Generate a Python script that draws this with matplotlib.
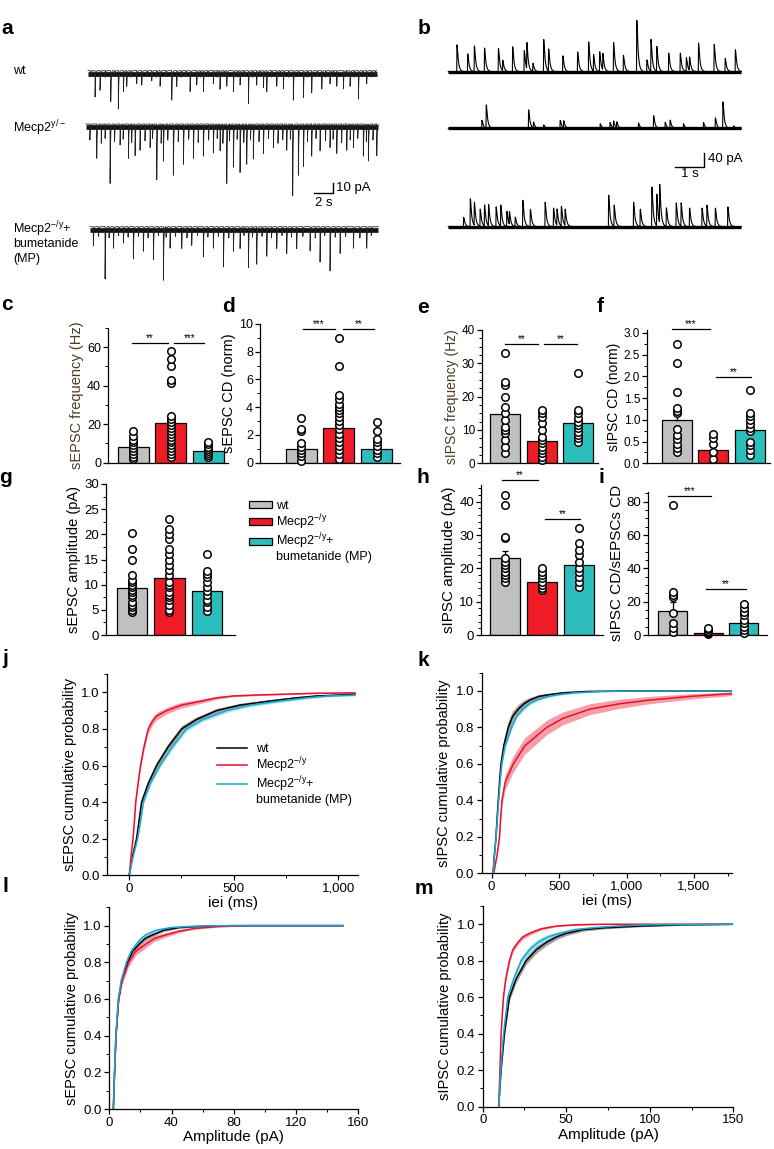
import numpy as np
import matplotlib
matplotlib.use('Agg')
import matplotlib.pyplot as plt
from matplotlib.patches import Patch
from matplotlib.lines import Line2D
from matplotlib.ticker import MultipleLocator, FuncFormatter, FormatStrFormatter

plt.rcParams['font.family'] = ['Liberation Sans', 'DejaVu Sans']
plt.rcParams['mathtext.default'] = 'regular'
plt.rcParams['axes.linewidth'] = 0.9

# ---------------- data ----------------
groups = ['wt', 'Mecp2$^{-/y}$', 'Mecp2$^{-/y}$+', 'bumetanide (MP)']
bar_colors = ['#c0c0c0', '#ee1c25', '#2ebdbd']

# panel a: sEPSC events (time s, amplitude pA)
a_wt_events = np.array([(0.3,7),(0.74,32.7),(1.26,24.3),(1.8,8),(2.39,37.7),(2.8,7),(3.19,46.7),(3.72,26),(4.07,19.3),(4.5,8),(5.12,16),(5.65,17.7),(6.2,7),(6.7,12.7),(7.2,8),(7.58,19.3),(8.2,7),(8.81,36),(9.33,19.3),(9.8,8),(10.3,7),(10.74,26),(11.44,17.7),(11.8,8),(12.14,26),(12.6,7),(13.19,16),(13.6,8),(13.89,22.7),(14.3,7),(14.6,19.3),(15.3,26),(15.7,8),(16.0,17.7),(16.4,7),(16.88,41),(17.3,8),(17.75,17.7),(18.1,7),(18.46,21),(18.81,26),(19.3,8),(19.86,19.3),(20.2,7),(20.56,22.7),(21.1,8),(21.61,36),(22.1,7),(22.67,32.7),(23.1,8),(23.54,27.7),(24.1,7),(24.6,22.7),(25.0,8),(25.47,16),(25.8,7),(26.18,19.3),(26.88,22.7),(27.2,7),(27.58,19.3),(28.0,8),(28.46,35.3),(28.9,7),(29.33,16),(29.8,8),(30.2,7)])
a_ko_events = np.array([(1.12,42.7),(2.53,72.7),(3.58,26),(4.46,42.7),(5.16,39.3),(5.68,32.7),(6.74,29.3),(7.44,69.3),(8.14,46),(9.19,62.7),(10.25,49.3),(11.30,42.7),(12.35,39.3),(13.40,36),(14.11,32.7),(14.81,72.7),(15.51,52.7),(16.21,59.3),(16.91,49.3),(17.61,42.7),(18.67,36),(19.72,29.3),(21.12,32.7),(21.75,87.7),(22.35,62.7),(22.88,52.7),(23.75,39.3),(24.63,32.7),(25.68,29.3),(26.39,36),(27.44,32.7),(28.14,29.3),(29.19,39.3),(29.72,46),(30.6,39.3),
    (0.4,20),(1.6,24),(2.0,18),(3.0,22),(3.9,19),(4.8,23),(6.2,21),(7.0,18),(7.9,24),(8.6,20),(9.7,22),(10.8,19),(11.8,23),(12.9,20),(13.8,18),(14.4,24),(15.1,21),(15.9,19),(16.6,23),(17.3,20),(18.2,22),(19.2,18),(20.2,24),(20.7,20),(21.5,19),(23.3,22),(24.2,18),(25.2,21),(26.0,19),(26.9,23),(27.8,20),(28.6,18),(29.5,22),(30.2,20)])
a_bm_events = np.array([(0.35,23.3),(1.58,65),(2.46,26.7),(3.51,20),(4.56,40),(5.61,30),(6.67,40),(7.72,66.7),(8.42,26.7),(9.65,26.7),(10.70,23.3),(11.93,36.7),(12.98,26.7),(14.04,50),(15.09,30),(15.79,26.7),(16.67,50),(17.54,46.7),(18.60,36.7),(19.65,26.7),(20.70,33.3),(21.75,26.7),(23.16,30),(24.21,43.3),(25.26,55),(26.32,33.3),(27.72,26.7),(29.12,26.7),
    (0.9,12),(2.0,14),(3.0,11),(4.0,13),(5.1,12),(6.1,14),(7.2,11),(8.0,13),(9.0,12),(10.2,14),(11.3,11),(12.4,13),(13.5,12),(14.6,14),(16.2,11),(17.1,13),(18.1,12),(19.1,14),(20.2,11),(21.2,13),(22.4,12),(23.7,14),(24.7,11),(25.8,13),(26.9,12),(28.4,14),(29.6,11)])

# panel b: sIPSC events (time s, amplitude pA)
b_wt_events = np.array([(0.29,110),(0.66,73),(0.89,105),(1.24,97),(1.72,95),(1.87,43),(2.21,102),(2.61,86),(2.70,107),(2.91,33),(3.28,132),(3.45,90),(3.94,65),(4.45,81),(4.83,122),(5.00,67),(5.21,81),(5.32,67),(5.69,119),(6.03,67),(6.49,210),(6.84,48),(6.98,130),(7.18,102),(7.59,76),(7.99,76),(8.20,57),(8.31,55),(8.62,117),(9.16,112),(9.54,54),(9.89,90)])
b_ko_events = np.array([(1.15,33),(1.30,95),(2.76,76),(2.93,24),(3.28,14),(3.85,33),(3.97,29),(5.23,19),(5.57,24),(5.69,29),(5.80,24),(6.55,22),(7.07,52),(7.47,24),(7.64,33),(8.10,19),(8.79,24),(9.20,43),(9.46,108),(9.83,10)])
b_bm_events = np.array([(0.52,38),(0.75,114),(0.89,95),(1.09,71),(1.24,86),(1.38,86),(1.64,81),(1.80,86),(2.01,62),(2.10,52),(2.30,38),(2.56,108),(2.82,71),(3.33,100),(3.62,76),(3.74,67),(3.89,81),(4.02,67),(5.52,129),(5.71,86),(6.38,100),(6.61,71),(7.01,162),(7.18,129),(7.28,157),(7.51,76),(7.85,97),(8.02,95),(8.31,76),(8.74,76),(8.91,86),(9.20,76),(9.63,81)])

# bar panels: means, sem, individual cells
c_means = [8.0, 20.5, 6.2];  c_sem = [1.3, 4.2, 0.7]
c_wt = [2, 3, 4.5, 6, 7.5, 9, 10.5, 12, 14, 16.5]
c_ko = [3, 4.5, 6, 7.5, 9, 10.5, 12, 13.5, 15, 16.5, 18, 19.5, 21, 22.5, 24.5, 41.5, 43, 50, 54, 58]
c_bm = [3, 4, 5, 6, 7, 8, 9.5, 11]

d_means = [1.0, 2.5, 1.0];  d_sem = [0.2, 0.45, 0.2]
d_wt = [0.15, 0.45, 0.7, 0.95, 1.15, 1.4, 2.3, 2.4, 3.2]
d_ko = [0.3, 0.6, 0.9, 1.2, 1.5, 1.8, 2.1, 2.4, 2.7, 3.0, 3.3, 3.6, 3.8, 4.0, 4.2, 4.6, 4.9, 7.0, 9.0]
d_bm = [0.4, 0.7, 0.95, 1.2, 1.5, 1.7, 2.3, 2.9]

e_means = [14.7, 6.7, 12.0];  e_sem = [2.2, 1.2, 1.4]
e_wt = [3, 5, 7, 9, 10, 11, 13, 15, 17, 20, 23.5, 24.5, 33]
e_ko = [1, 2, 3, 4, 5, 6, 7, 8, 10, 12, 14, 15, 16]
e_bm = [6.5, 7.5, 8.5, 9.5, 10.5, 11.5, 12.5, 13.5, 15, 16, 27]

f_means = [1.0, 0.3, 0.77];  f_sem = [0.17, 0.08, 0.12]
f_wt = [0.27, 0.35, 0.45, 0.55, 0.65, 0.8, 1.15, 1.2, 1.27, 1.65, 2.3, 2.75]
f_ko = [0.1, 0.25, 0.45, 0.58, 0.67]
f_bm = [0.2, 0.3, 0.42, 0.5, 0.75, 0.82, 0.9, 1.0, 1.08, 1.15, 1.68]

g_means = [9.4, 11.3, 8.8];  g_sem = [0.7, 0.9, 0.6]
g_wt = [4.5, 5, 5.5, 6, 6.5, 7.5, 8, 8.5, 9, 9.5, 10, 10.5, 11, 12, 15, 17, 20.3]
g_ko = [4.5, 5, 6, 7, 7.5, 8, 8.5, 9.5, 10, 10.5, 12, 13, 14, 15, 16, 17, 19, 20, 21, 23]
g_bm = [4.8, 5.5, 6.5, 7, 8, 8.8, 9.5, 10.5, 11.5, 12.2, 12.8, 16]

h_means = [23.0, 16.0, 21.0];  h_sem = [2.3, 0.6, 1.3]
h_wt = [16, 17, 18, 19, 20, 21, 22, 23, 29, 29.5, 39, 42]
h_ko = [13.5, 14, 15, 16, 17, 18, 19, 20]
h_bm = [14.5, 16, 17.5, 19, 20, 22, 24, 25.5, 27.5, 32]

i_means = [14.5, 1.5, 7.0];  i_sem = [5.3, 0.5, 1.6]
i_wt = [2, 4, 7, 13.5, 23, 24, 26, 78]
i_ko = [0.5, 1, 1.5, 2, 2.5, 3.5, 4.5]
i_bm = [1, 3, 5, 7, 9, 12, 14, 16.5, 18.5]

# significance brackets (x from, x to, y, label)
c_sig = [(-0.03, 0.93, 62.4, '**'), (1.1, 1.9, 62.4, '***')]
d_sig = [(0.05, 0.9, 9.62, '***'), (1.1, 1.94, 9.62, '**')]
e_sig = [(0.0, 0.91, 35.8, '**'), (1.07, 1.97, 35.8, '**')]
f_sig = [(-0.14, 0.91, 3.09, '***'), (1.08, 2.03, 1.98, '**')]
h_sig = [(-0.09, 0.88, 46.5, '**'), (1.08, 2.03, 34.7, '**')]
i_sig = [(-0.13, 1.09, 83.6, '***'), (0.95, 2.06, 27.4, '**')]

# cumulative distributions
j_wt_x = [0, 15, 35, 47, 59, 90, 131, 185, 251, 320, 418, 530, 657, 800, 897, 1000, 1080]
j_wt_y = [0, 0.1, 0.2, 0.3, 0.4, 0.5, 0.6, 0.7, 0.8, 0.85, 0.9, 0.93, 0.95, 0.97, 0.98, 0.985, 0.99]
j_wt_e = [0, 0.005, 0.01, 0.012, 0.015, 0.018, 0.02, 0.02, 0.018, 0.015, 0.012, 0.01, 0.008, 0.006, 0.005, 0.005, 0.005]
j_ko_x = [0, 10, 18, 25, 31, 42, 54, 70, 91, 110, 131, 179, 250, 338, 420, 497, 600, 750, 900, 1080]
j_ko_y = [0, 0.12, 0.2, 0.3, 0.4, 0.5, 0.6, 0.7, 0.8, 0.84, 0.87, 0.9, 0.93, 0.95, 0.97, 0.98, 0.985, 0.99, 0.995, 0.997]
j_ko_e = [0, 0.005, 0.008, 0.01, 0.012, 0.015, 0.018, 0.02, 0.022, 0.022, 0.02, 0.018, 0.015, 0.012, 0.008, 0.005, 0.004, 0.003, 0.002, 0.002]
j_bm_x = [0, 18, 40, 55, 68, 100, 147, 205, 274, 350, 466, 580, 707, 850, 950, 1080]
j_bm_y = [0, 0.1, 0.2, 0.3, 0.4, 0.5, 0.6, 0.7, 0.8, 0.85, 0.9, 0.93, 0.95, 0.97, 0.98, 0.985]
j_bm_e = [0, 0.004, 0.006, 0.008, 0.01, 0.01, 0.012, 0.012, 0.012, 0.01, 0.01, 0.008, 0.007, 0.006, 0.005, 0.005]

k_wt_x = [10, 20, 32, 40, 49, 58, 69, 90, 123, 155, 197, 240, 284, 350, 430, 530, 700, 1000, 1780]
k_wt_y = [0, 0.1, 0.2, 0.3, 0.4, 0.5, 0.6, 0.7, 0.8, 0.86, 0.9, 0.93, 0.95, 0.97, 0.98, 0.99, 0.997, 1.0, 1.0]
k_wt_e = [0, 0.005, 0.01, 0.015, 0.02, 0.025, 0.03, 0.035, 0.035, 0.03, 0.025, 0.02, 0.015, 0.01, 0.008, 0.005, 0.003, 0.002, 0.002]
k_ko_x = [15, 40, 58, 66, 76, 100, 160, 247, 408, 530, 729, 952, 1174, 1471, 1780]
k_ko_y = [0, 0.1, 0.2, 0.3, 0.4, 0.5, 0.6, 0.7, 0.8, 0.85, 0.9, 0.93, 0.95, 0.97, 0.985]
k_ko_e = [0, 0.01, 0.02, 0.025, 0.03, 0.04, 0.045, 0.045, 0.04, 0.035, 0.03, 0.025, 0.02, 0.015, 0.01]
k_bm_x = [10, 21, 33, 42, 52, 62, 75, 100, 148, 185, 232, 280, 334, 420, 500, 620, 800, 1100, 1780]
k_bm_y = [0, 0.1, 0.2, 0.3, 0.4, 0.5, 0.6, 0.7, 0.8, 0.86, 0.9, 0.93, 0.95, 0.97, 0.98, 0.99, 0.997, 1.0, 1.0]
k_bm_e = [0, 0.004, 0.006, 0.008, 0.01, 0.012, 0.012, 0.012, 0.012, 0.01, 0.01, 0.008, 0.006, 0.005, 0.004, 0.003, 0.002, 0.002, 0.002]

l_wt_x = [2.6, 3.4, 4.3, 6, 8, 11.8, 15, 19.3, 23, 27.9, 35, 45, 60, 80, 150]
l_wt_y = [0, 0.2, 0.4, 0.6, 0.7, 0.8, 0.86, 0.9, 0.93, 0.95, 0.975, 0.99, 0.997, 1.0, 1.0]
l_wt_e = [0, 0.005, 0.01, 0.012, 0.014, 0.015, 0.015, 0.014, 0.012, 0.01, 0.007, 0.005, 0.003, 0.002, 0.002]
l_ko_x = [2.6, 3.4, 4.3, 6, 8.2, 12.5, 17, 23.6, 29, 36.5, 45, 55, 70, 90, 150]
l_ko_y = [0, 0.2, 0.4, 0.6, 0.7, 0.8, 0.86, 0.9, 0.93, 0.95, 0.97, 0.985, 0.995, 1.0, 1.0]
l_ko_e = [0, 0.006, 0.012, 0.016, 0.02, 0.022, 0.022, 0.02, 0.016, 0.012, 0.008, 0.005, 0.003, 0.002, 0.002]
l_bm_x = [2.6, 3.3, 4.2, 5.8, 7.6, 11, 14, 17.5, 20.5, 23.6, 30, 40, 55, 75, 150]
l_bm_y = [0, 0.2, 0.4, 0.6, 0.7, 0.8, 0.86, 0.9, 0.93, 0.95, 0.975, 0.99, 0.997, 1.0, 1.0]
l_bm_e = [0, 0.005, 0.01, 0.012, 0.014, 0.015, 0.015, 0.014, 0.012, 0.01, 0.007, 0.005, 0.003, 0.002, 0.002]

m_wt_x = [9.6, 11, 13, 16, 20, 26, 32, 38, 44, 50, 60, 72, 94, 120, 150]
m_wt_y = [0, 0.2, 0.4, 0.6, 0.7, 0.8, 0.86, 0.9, 0.93, 0.95, 0.97, 0.98, 0.99, 0.997, 1.0]
m_wt_e = [0, 0.01, 0.015, 0.02, 0.02, 0.02, 0.02, 0.018, 0.015, 0.012, 0.008, 0.006, 0.004, 0.003, 0.002]
m_ko_x = [9.6, 10.3, 11, 12.4, 13.8, 16, 18, 21, 24, 28, 35, 44, 55, 72, 150]
m_ko_y = [0, 0.2, 0.4, 0.6, 0.7, 0.8, 0.86, 0.9, 0.93, 0.95, 0.975, 0.99, 0.997, 1.0, 1.0]
m_ko_e = [0, 0.008, 0.012, 0.015, 0.016, 0.016, 0.015, 0.014, 0.012, 0.01, 0.007, 0.004, 0.003, 0.002, 0.002]
m_bm_x = [9.6, 10.8, 12.5, 15, 18.5, 23, 28, 33, 39, 46, 55, 65, 80, 100, 150]
m_bm_y = [0, 0.2, 0.4, 0.6, 0.7, 0.8, 0.86, 0.9, 0.93, 0.95, 0.97, 0.98, 0.99, 0.997, 1.0]
m_bm_e = [0, 0.01, 0.015, 0.02, 0.022, 0.022, 0.02, 0.018, 0.015, 0.012, 0.008, 0.006, 0.004, 0.003, 0.002]

# ---------------- figure ----------------
W, H = 774, 1149
fig = plt.figure(figsize=(W / 100, H / 100), dpi=100)


def add_ax(l, t, r, b):
    ax = fig.add_axes([l / W, 1 - b / H, (r - l) / W, (b - t) / H])
    ax.patch.set_visible(False)
    return ax


def ftext(x, y, s, **kw):
    fig.text(x / W, 1 - y / H, s, **kw)


# ---- traces ----
def trace(events, dur, dt, tau_r, tau_d):
    t = np.arange(0, dur, dt)
    y = np.zeros_like(t)
    for te, a in events:
        m = t >= te
        s = t[m] - te
        y[m] += a * (1 - np.exp(-s / tau_r)) * np.exp(-s / tau_d)
    return t, y


axa = add_ax(0, 0, 400, 300)
axa.set_xlim(-88 / 9.5, 312 / 9.5)
axa.set_ylim(-300, 0)
axa.axis('off')
for ev, t0, dur, base in [(a_wt_events, 0.0, 30.4, -70.7),
                          (a_ko_events, -0.21, 30.77, -124),
                          (a_bm_events, 0.21, 30.35, -226.7)]:
    t, y = trace(ev, dur, 0.004, 0.002, 0.04)
    axa.plot([t0, t0 + dur], [base - 3, base - 3], color='#111111', lw=3.4, solid_capstyle='butt')
    axa.plot(t + t0, base - y, color='#222222', lw=0.6)
# scale bar a
axa.plot([23.8, 25.8, 25.8], [-193.3, -193.3, -183.3], color='black', lw=1)
axa.text(26.1, -188, '10 pA', fontsize=9.5, va='center', ha='left')
axa.text(24.8, -197, '2 s', fontsize=9.5, va='top', ha='center')
ftext(13, 71, 'wt', fontsize=9, va='center')
ftext(13, 128, 'Mecp2$^{y/-}$', fontsize=9, va='center')
ftext(13, 229, 'Mecp2$^{-/y}$+', fontsize=9, va='center')
ftext(13, 244, 'bumetanide', fontsize=9, va='center')
ftext(13, 259, '(MP)', fontsize=9, va='center')

axb = add_ax(400, 0, 774, 300)
axb.set_xlim(-48.3 / 29, 325.7 / 29)
axb.set_ylim(-300 / 0.35, 0)
axb.axis('off')
for ev, dur, base in [(b_wt_events, 10.11, -204.8),
                      (b_ko_events, 10.11, -366.7),
                      (b_bm_events, 10.11, -647.6)]:
    t, y = trace(ev, dur, 0.002, 0.005, 0.045)
    axb.plot([0, dur], [base, base], color='black', lw=2.4, solid_capstyle='butt')
    axb.plot(t, base + y, color='black', lw=0.8)
axb.plot([7.83, 8.83, 8.83], [-476, -476, -436], color='black', lw=1)
axb.text(8.95, -455, '40 pA', fontsize=9.5, va='center', ha='left')
axb.text(8.33, -480, '1 s', fontsize=9.5, va='top', ha='center')


# ---- bar panels ----
def bar_panel(box, xlim, ylim, means, sems, pts, major, minor, ylabel, sig,
              fmt='%g', labelcolor='black', tfs=8.5, lfs=10):
    ax = add_ax(*box)
    x = np.arange(3)
    ax.bar(x, means, width=0.82, color=bar_colors, edgecolor='black', linewidth=0.9, zorder=2)
    ax.errorbar(x, means, yerr=[np.zeros(3), sems], fmt='none', ecolor='black',
                elinewidth=0.9, capsize=2.5, capthick=0.9, zorder=3)
    for xi, p in zip(x, pts):
        ax.plot(np.full(len(p), xi), p, 'o', mfc='white', mec='black', ms=5.4, mew=1.1,
                zorder=4, clip_on=False)
    ax.set_xlim(*xlim)
    ax.set_ylim(*ylim)
    for s in ['top', 'right']:
        ax.spines[s].set_visible(False)
    ax.set_xticks([])
    ax.yaxis.set_major_locator(MultipleLocator(major))
    ax.yaxis.set_minor_locator(MultipleLocator(minor))
    ax.yaxis.set_major_formatter(FormatStrFormatter(fmt))
    ax.tick_params(axis='y', which='major', length=3.5, width=0.9, labelsize=tfs, pad=1.5)
    ax.tick_params(axis='y', which='minor', length=2, width=0.7)
    ax.set_ylabel(ylabel, fontsize=lfs, color=labelcolor, labelpad=2)
    for x0, x1, yy, lab in sig:
        ax.plot([x0, x1], [yy, yy], color='black', lw=0.9, clip_on=False)
        ax.text((x0 + x1) / 2, yy, lab, ha='center', va='bottom', fontsize=7, clip_on=False)
    return ax


brown = '#4d3b2a'
bar_panel((108, 328, 228, 462.7), (-0.67, 2.53), (0, 70), c_means, c_sem, [c_wt, c_ko, c_bm],
          20, 10, 'sEPSC frequency (Hz)', c_sig, labelcolor=brown, tfs=9, lfs=10.5)
bar_panel((260, 324, 400, 462.7), (-1.09, 2.62), (0, 10), d_means, d_sem, [d_wt, d_ko, d_bm],
          2, 1, 'sEPSC CD (norm)', d_sig, tfs=9, lfs=10.5)
bar_panel((482, 330, 598, 463.3), (-0.64, 2.55), (0, 40), e_means, e_sem, [e_wt, e_ko, e_bm],
          10, 2.5, 'sIPSC frequency (Hz)', e_sig, labelcolor=brown, tfs=8.5, lfs=10)
bar_panel((647, 329.5, 770, 463.3), (-0.82, 2.56), (0, 3.08), f_means, f_sem, [f_wt, f_ko, f_bm],
          0.5, 0.25, 'sIPSC CD (norm)', f_sig, fmt='%.1f', tfs=8.5, lfs=10)
bar_panel((106, 484, 235, 635), (-0.69, 2.75), (0, 30), g_means, g_sem, [g_wt, g_ko, g_bm],
          5, 2.5, 'sEPSC amplitude (pA)', [], tfs=9.5, lfs=10.5)
bar_panel((481, 485, 603, 635), (-0.66, 2.66), (0, 45), h_means, h_sem, [h_wt, h_ko, h_bm],
          10, 2, 'sIPSC amplitude (pA)', h_sig, tfs=9.5, lfs=11)
bar_panel((648, 491.7, 767, 635), (-0.7, 2.66), (0, 86), i_means, i_sem, [i_wt, i_ko, i_bm],
          20, 5, 'sIPSC CD/sEPSCs CD', i_sig, tfs=9.5, lfs=11)

handles = [Patch(facecolor=c, edgecolor='black', linewidth=0.9) for c in bar_colors]
handles.append(Patch(facecolor='none', edgecolor='none'))
fig.legend(handles, groups, loc='upper left', bbox_to_anchor=(249 / W, 1 - 500 / H),
           frameon=False, fontsize=9, handlelength=1.85, handleheight=0.5,
           handletextpad=0.3, labelspacing=0.0, borderpad=0, borderaxespad=0)

# ---- cumulative panels ----
line_colors = ['black', '#e8102e', '#1ca6cf']
band_colors = ['#7a7a7a', '#f27582', '#7ad9e6']


def cum_panel(box, xlim, xmajor, xminor, xlabel, ylabel, curves, thousands=False):
    ax = add_ax(*box)
    for (x, y, e), bc in zip(curves, band_colors):
        x = np.asarray(x); y = np.asarray(y); e = np.asarray(e)
        ax.fill_between(x, y - e, np.minimum(y + e, 1.0), color=bc, alpha=0.7, lw=0, zorder=1)
    for (x, y, e), lc in zip(curves, line_colors):
        ax.plot(x, y, color=lc, lw=1.1, zorder=2)
    ax.set_xlim(*xlim)
    ax.set_ylim(0, 1.1)
    for s in ['top', 'right']:
        ax.spines[s].set_visible(False)
    ax.xaxis.set_major_locator(MultipleLocator(xmajor))
    ax.xaxis.set_minor_locator(MultipleLocator(xminor))
    ax.yaxis.set_major_locator(MultipleLocator(0.2))
    ax.yaxis.set_minor_locator(MultipleLocator(0.1))
    ax.yaxis.set_major_formatter(FormatStrFormatter('%.1f'))
    if thousands:
        ax.xaxis.set_major_formatter(FuncFormatter(lambda v, p: f'{v:,.0f}'))
    else:
        ax.xaxis.set_major_formatter(FormatStrFormatter('%g'))
    ax.tick_params(which='major', length=3.5, width=0.9, labelsize=9.5, pad=2)
    ax.tick_params(which='minor', length=2, width=0.7)
    ax.set_xlabel(xlabel, fontsize=11, labelpad=1)
    ax.set_ylabel(ylabel, fontsize=10.5, labelpad=3)
    return ax


cum_panel((107.3, 674, 358.3, 875.3), (-105, 1096), 500, 250, 'iei (ms)',
          'sEPSC cumulative probability',
          [(j_wt_x, j_wt_y, j_wt_e), (j_ko_x, j_ko_y, j_ko_e), (j_bm_x, j_bm_y, j_bm_e)],
          thousands=True)
cum_panel((481.7, 672.7, 731.7, 873.3), (-74, 1780), 500, 250, 'iei (ms)',
          'sIPSC cumulative probability',
          [(k_wt_x, k_wt_y, k_wt_e), (k_ko_x, k_ko_y, k_ko_e), (k_bm_x, k_bm_y, k_bm_e)],
          thousands=True)
cum_panel((109.3, 907.3, 358.3, 1109), (0, 160), 40, 20, 'Amplitude (pA)',
          'sEPSC cumulative probability',
          [(l_wt_x, l_wt_y, l_wt_e), (l_ko_x, l_ko_y, l_ko_e), (l_bm_x, l_bm_y, l_bm_e)])
cum_panel((482.7, 906, 733.3, 1106.7), (0, 150), 50, 25, 'Amplitude (pA)',
          'sIPSC cumulative probability',
          [(m_wt_x, m_wt_y, m_wt_e), (m_ko_x, m_ko_y, m_ko_e), (m_bm_x, m_bm_y, m_bm_e)])

lh = [Line2D([0], [0], color=c, lw=1.1) for c in line_colors]
lh.append(Line2D([0], [0], color='none'))
fig.legend(lh, groups, loc='upper left', bbox_to_anchor=(217 / W, 1 - 743 / H),
           frameon=False, fontsize=9, handlelength=2.4, handletextpad=0.7,
           labelspacing=0.0, borderpad=0, borderaxespad=0)

# ---- panel letters ----
for lab, x, y in [('a', 7, 29), ('b', 424, 28), ('c', 7, 304), ('d', 228, 307),
                  ('e', 423, 308), ('f', 600, 307), ('g', 5, 478), ('h', 423, 478),
                  ('i', 601, 478), ('j', 5, 658), ('k', 423, 660), ('l', 5, 886),
                  ('m', 424, 889)]:
    ftext(x, y, lab, fontsize=15, fontweight='bold', ha='center', va='center')

fig.savefig('out.png', dpi=100)
